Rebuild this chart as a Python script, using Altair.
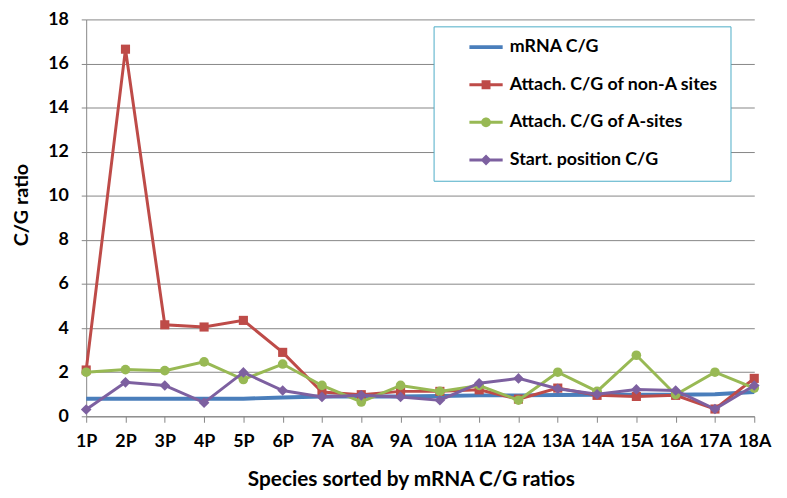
import altair as alt
import pandas as pd

categories = ["1P", "2P", "3P", "4P", "5P", "6P", "7A", "8A", "9A", "10A",
              "11A", "12A", "13A", "14A", "15A", "16A", "17A", "18A"]
series_names = ["mRNA C/G", "Attach. C/G of non-A sites",
                "Attach. C/G of A-sites", "Start. position C/G"]
mrna_cg = [0.8, 0.8, 0.8, 0.8, 0.8, 0.85, 0.9, 0.9, 0.9, 0.92,
           0.95, 0.95, 0.97, 0.98, 0.98, 0.98, 1.0, 1.1]
non_a_cg = [2.1, 16.65, 4.15, 4.05, 4.35, 2.9, 1.1, 0.98, 1.13, 1.13,
            1.2, 0.78, 1.28, 0.95, 0.9, 0.95, 0.33, 1.72]
a_sites_cg = [2.0, 2.12, 2.07, 2.47, 1.67, 2.37, 1.4, 0.65, 1.4, 1.13,
              1.4, 0.73, 2.0, 1.13, 2.77, 0.98, 2.0, 1.28]
start_cg = [0.31, 1.54, 1.4, 0.62, 1.99, 1.17, 0.88, 0.95, 0.88, 0.73,
            1.5, 1.72, 1.25, 1.0, 1.22, 1.17, 0.33, 1.4]
y_ticks = [0, 2, 4, 6, 8, 10, 12, 14, 16, 18]

colors = ["#4A7EBB", "#BE4B48", "#98B954", "#7D60A0"]
widths = [4, 3, 3, 3]
markers = [None, "square", "circle", "diamond"]
marker_sizes = [0, 85, 95, 115]
legend_paths = [
    "M-2.8,-0.33H2.8V0.33H-2.8Z",
    "M-2.8,-0.25H2.8V0.25H-2.8Z M-0.75,-0.75H0.75V0.75H-0.75Z",
    "M-2.8,-0.25H2.8V0.25H-2.8Z M-0.83,0A0.83,0.83,0,1,1,0.83,0A0.83,0.83,0,1,1,-0.83,0Z",
    "M-2.8,-0.25H2.8V0.25H-2.8Z M0,-0.92L0.92,0L0,0.92L-0.92,0Z",
]

values = [mrna_cg, non_a_cg, a_sites_cg, start_cg]
rows = []
for name, vals in zip(series_names, values):
    for c, v in zip(categories, vals):
        rows.append({"cat": c, "series": name, "value": v})
df = pd.DataFrame(rows)

FONT = "Lato"
GRID = "#868686"

x_enc = alt.X(
    "cat:N", sort=categories,
    scale=alt.Scale(type="point", padding=0),
    axis=alt.Axis(
        title="Species sorted by mRNA C/G ratios", labelAngle=0,
        labelFont=FONT, labelFontSize=18, labelFontWeight="bold",
        labelColor="black", labelPadding=11, tickSize=6, tickColor=GRID,
        domainColor=GRID, grid=False, titleFont=FONT, titleFontSize=21,
        titleFontWeight="bold", titleColor="black", titleX=328, titleY=53,
        titleBaseline="top",
    ),
)
y_enc = alt.Y(
    "value:Q",
    scale=alt.Scale(domain=[0, 18], nice=False),
    axis=alt.Axis(
        title="C/G ratio", values=y_ticks, labelFont=FONT, labelFontSize=18,
        labelFontWeight="bold", labelColor="black", labelPadding=13,
        tickSize=5, tickColor=GRID, domainColor=GRID, gridColor=GRID,
        gridWidth=1, gridOpacity=1, titleFont=FONT, titleFontSize=20,
        titleFontWeight="bold", titleColor="black", titleX=-65, titleY=187,
        titleBaseline="middle",
    ),
)

layers = []
for i, name in enumerate(series_names):
    sub = alt.Chart(df).transform_filter(alt.datum.series == name)
    layers.append(
        sub.mark_line(color=colors[i], strokeWidth=widths[i]).encode(x=x_enc, y=y_enc)
    )
    if markers[i]:
        layers.append(
            sub.mark_point(filled=True, opacity=1, shape=markers[i],
                           size=marker_sizes[i], color=colors[i])
            .encode(x=x_enc, y=y_enc)
        )

legend = alt.Legend(
    title=None, orient="none", legendX=351, legendY=7, direction="vertical",
    symbolSize=144, symbolOffset=32, labelOffset=15, symbolStrokeWidth=0,
    symbolOpacity=1, labelFont=FONT, labelFontSize=18, labelFontWeight="bold",
    labelColor="black", padding=12, rowPadding=20, strokeColor="#4BACC6",
    fillColor="white", labelLimit=400,
)
legend_layer = (
    alt.Chart(df)
    .transform_filter("false")
    .mark_point(filled=True)
    .encode(
        x=x_enc, y=y_enc,
        color=alt.Color("series:N", scale=alt.Scale(domain=series_names, range=colors), legend=legend),
        shape=alt.Shape("series:N", scale=alt.Scale(domain=series_names, range=legend_paths), legend=legend),
    )
)
layers.append(legend_layer)

chart = (
    alt.layer(*layers)
    .properties(
        width=675, height=401,
        padding={"left": 79, "top": 9, "right": 25, "bottom": 80},
        autosize=alt.AutoSizeParams(type="none"),
        background="white",
    )
    .configure_view(strokeWidth=0)
)

chart.save("out.html", embed_options={"renderer": "svg", "actions": False})
